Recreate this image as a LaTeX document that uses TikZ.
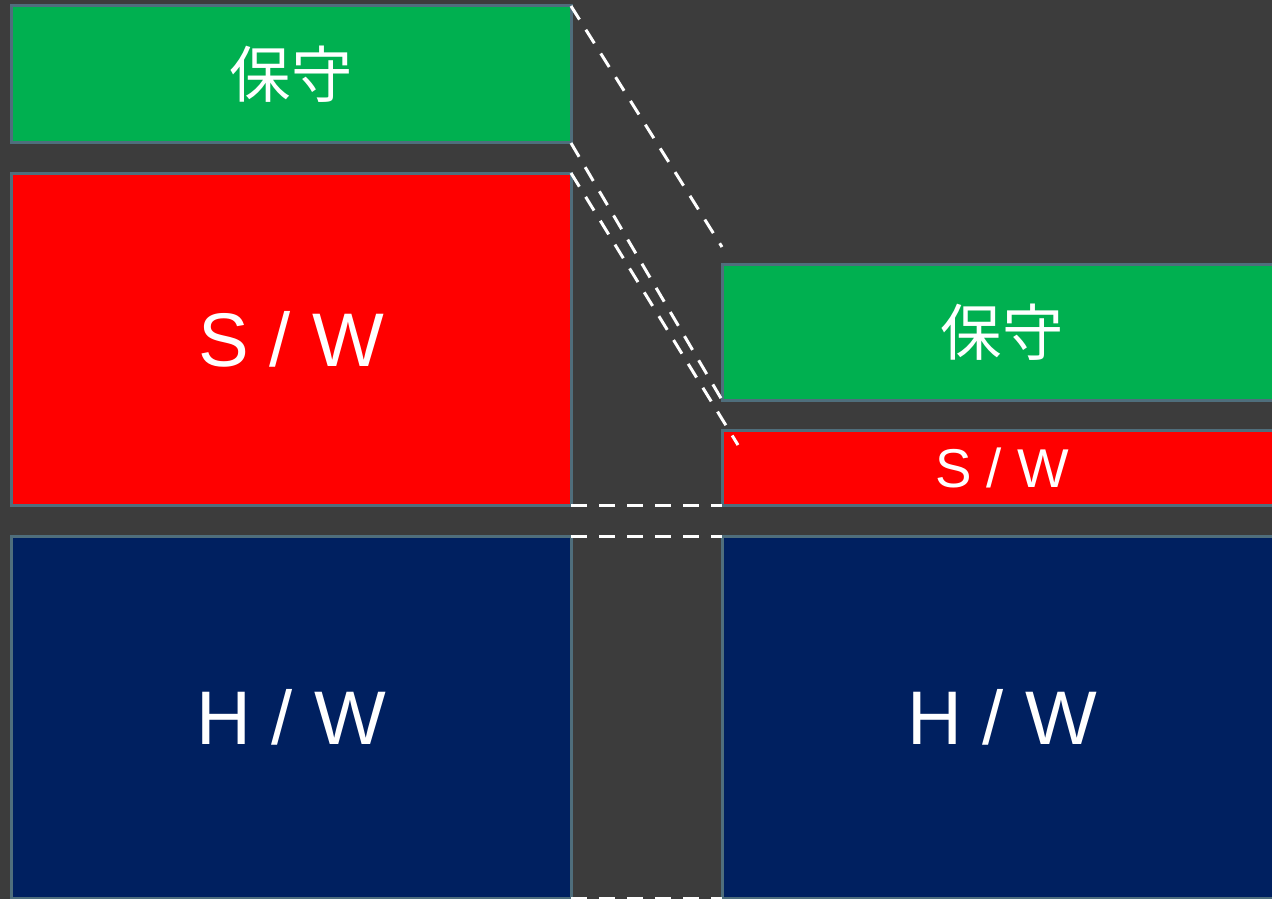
\documentclass[tikz,border=0pt]{standalone}
\usepackage{fontspec}
\setmainfont{Liberation Sans}
\newfontfamily\cjk{Noto Sans CJK JP}
\definecolor{bgc}{HTML}{3C3C3C}
\definecolor{gr}{HTML}{00B050}
\definecolor{rd}{HTML}{FF0000}
\definecolor{bl}{HTML}{002060}
\definecolor{bd}{HTML}{4F6E7C}
\begin{document}
\begin{tikzpicture}[x=0.75pt,y=-0.75pt,
  box/.style={draw=bd,line width=2.25pt,rectangle,inner sep=0pt,outer sep=0pt,text=white,minimum width=420pt},
  dl/.style={draw=white,line width=2.25pt,dash pattern=on 12pt off 9pt}]
\useasboundingbox (0,0) rectangle (1272,899);
\fill[bgc] (0,0) rectangle (1272,899);
\clip (0,0) rectangle (1272,899);
% left
\node[box,fill=gr,minimum height=102.75pt,font={\cjk\fontsize{46}{50}\selectfont}] (lg) at (291,74.5) {保守};
\node[box,fill=rd,minimum height=249pt,font={\fontsize{57}{62}\selectfont}] (lr) at (291,339) {S / W};
\node[box,fill=bl,minimum height=271.5pt,font={\fontsize{57}{62}\selectfont}] (lb) at (291,717) {H / W};
% right
\node[box,fill=gr,minimum height=102pt,font={\cjk\fontsize{46}{50}\selectfont}] (rg) at (1002,332) {保守};
\node[box,fill=rd,minimum height=56.25pt,font={\fontsize{41}{45}\selectfont}] (rr) at (1002,467.5) {S / W};
\node[box,fill=bl,minimum height=271.5pt,font={\fontsize{57}{62}\selectfont}] (rb) at (1002,717) {H / W};
\coordinate (e0) at (722,247);
\coordinate (e2) at (738,445);
\draw[dl] (lg.north east) -- (e0);
\draw[dl] (lg.south east) -- (rg.south west);
\draw[dl] (lr.north east) -- (e2);
\draw[dl] (lr.south east) -- (rr.south west);
\draw[dl] (lb.north east) -- (rb.north west);
\draw[dl] (lb.south east) -- (rb.south west);
\end{tikzpicture}
\end{document}
